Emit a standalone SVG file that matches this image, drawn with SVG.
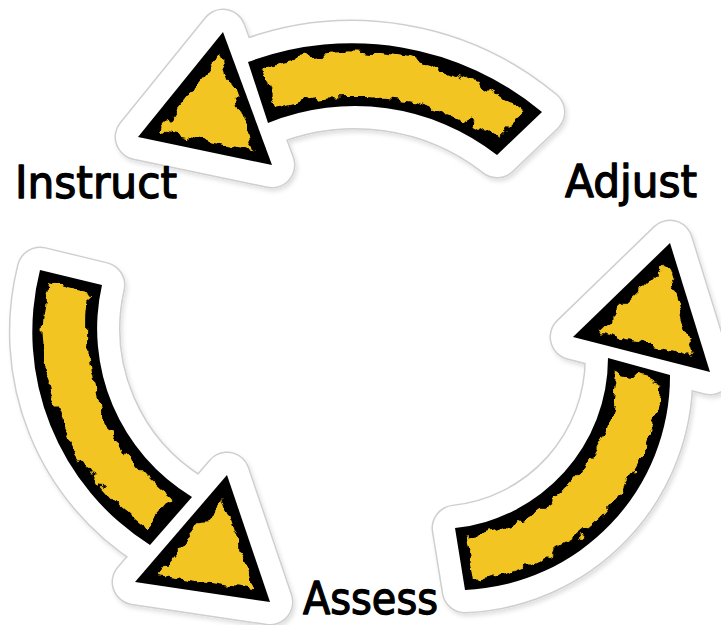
<svg xmlns="http://www.w3.org/2000/svg" width="721" height="625" viewBox="0 0 721 625">
<style>
.edge{fill:none;stroke:#cfcfcf;stroke-width:47;stroke-linejoin:round}
.paper{fill:#fff;stroke:#fff;stroke-width:44;stroke-linejoin:round}
.ink{fill:#000}
.paint{fill:#F3C521;filter:url(#rough)}
.label{font-family:"DejaVu Sans",sans-serif;font-size:44px;fill:#000;stroke:#000;stroke-width:1.3;stroke-linejoin:round}
</style>
<defs>
<filter id="rough" filterUnits="userSpaceOnUse" x="0" y="0" width="721" height="625">
<feMorphology operator="erode" radius="9" in="SourceGraphic" result="e"/>
<feTurbulence type="fractalNoise" baseFrequency="0.06" numOctaves="3" seed="4" result="n"/>
<feDisplacementMap in="e" in2="n" scale="16" xChannelSelector="R" yChannelSelector="G"/>
</filter>
<filter id="shadow" filterUnits="userSpaceOnUse" x="0" y="0" width="721" height="625">
<feDropShadow dx="2" dy="3" stdDeviation="2" flood-color="#000" flood-opacity="0.12"/>
</filter>
<path id="bandTop" d="M 248,62 A 297 297 0 0 1 542,112 L 497,155 A 231 231 0 0 0 268,123 Z"/>
<path id="headTop" d="M 223,32 L 272,165 L 138,137 Z"/>
<path id="bandLeft" d="M 40,270 A 252 252 0 0 0 150,545 L 192,497 A 197 197 0 0 1 102,285 Z"/>
<path id="headLeft" d="M 227,475 L 270,602 L 135,582 Z"/>
<path id="bandRight" d="M 465,590 A 214 214 0 0 0 670,375 L 608,358 A 171 171 0 0 1 455,528 Z"/>
<path id="headRight" d="M 670,243 L 710,372 L 573,337 Z"/>
</defs>
<rect width="721" height="625" fill="#fff"/>
<g id="connectors">
<g id="arrow-instruct-top">
<g filter="url(#shadow)">
<use href="#bandTop" class="edge"/><use href="#headTop" class="edge"/>
<use href="#bandTop" class="paper"/><use href="#headTop" class="paper"/>
</g>
<use href="#bandTop" class="ink"/><use href="#headTop" class="ink"/>
<use href="#bandTop" class="paint"/><use href="#headTop" class="paint"/>
</g>
<g id="arrow-left">
<g filter="url(#shadow)">
<use href="#bandLeft" class="edge"/><use href="#headLeft" class="edge"/>
<use href="#bandLeft" class="paper"/><use href="#headLeft" class="paper"/>
</g>
<use href="#bandLeft" class="ink"/><use href="#headLeft" class="ink"/>
<use href="#bandLeft" class="paint"/><use href="#headLeft" class="paint"/>
</g>
<g id="arrow-right">
<g filter="url(#shadow)">
<use href="#bandRight" class="edge"/><use href="#headRight" class="edge"/>
<use href="#bandRight" class="paper"/><use href="#headRight" class="paper"/>
</g>
<use href="#bandRight" class="ink"/><use href="#headRight" class="ink"/>
<use href="#bandRight" class="paint"/><use href="#headRight" class="paint"/>
</g>
</g>
<g id="node-instruct"><text class="label" x="15" y="198" textLength="162" lengthAdjust="spacingAndGlyphs">Instruct</text></g>
<g id="node-adjust"><text class="label" x="565" y="197" textLength="132" lengthAdjust="spacingAndGlyphs">Adjust</text></g>
<g id="node-assess"><text class="label" x="303" y="614" textLength="135" lengthAdjust="spacingAndGlyphs">Assess</text></g>
</svg>
